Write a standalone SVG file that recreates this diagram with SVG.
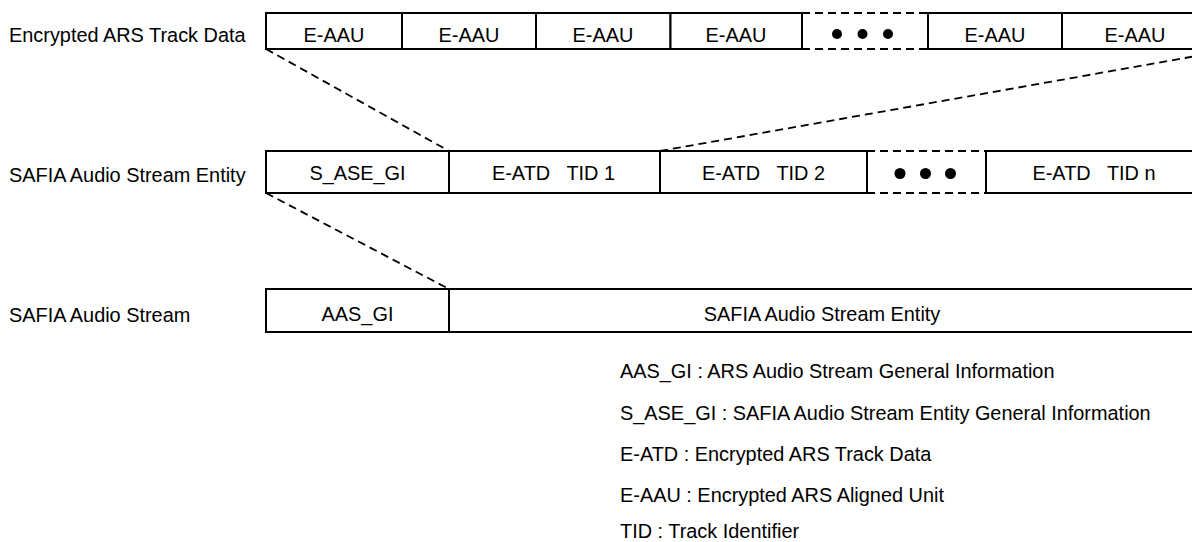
<svg xmlns="http://www.w3.org/2000/svg" width="1192" height="542" viewBox="0 0 1192 542">
  <style>
    text { font-family: "Liberation Sans", Arial, sans-serif; font-size: 19.9px; fill: #000; }
    .c { text-anchor: middle; }
    .cell { fill: #fff; stroke: #000; stroke-width: 2; }
    .dash { fill: none; stroke: #000; stroke-width: 1.8; stroke-dasharray: 8 5; }
    .dot { fill: #000; }
  </style>
  <rect width="1192" height="542" fill="#fff"/>

  <!-- row labels -->
  <g id="labels">
    <text x="9" y="41.5">Encrypted ARS Track Data</text>
    <text x="9" y="181.5">SAFIA Audio Stream Entity</text>
    <text x="9" y="321.5">SAFIA Audio Stream</text>
  </g>

  <!-- expansion connectors -->
  <g id="connectors">
    <line class="dash" x1="266" y1="49" x2="449" y2="151"/>
    <line class="dash" x1="660" y1="151" x2="1230" y2="50"/>
    <line class="dash" x1="266" y1="193" x2="449" y2="289"/>
  </g>

  <!-- Encrypted ARS Track Data -->
  <g id="track-data">
    <rect class="cell" x="266" y="13" width="136" height="36"/>
    <rect class="cell" x="402" y="13" width="134" height="36"/>
    <rect class="cell" x="536" y="13" width="134.5" height="36"/>
    <rect class="cell" x="670.5" y="13" width="131.5" height="36"/>
    <line class="dash" x1="802" y1="13" x2="928" y2="13"/>
    <line class="dash" x1="802" y1="49" x2="928" y2="49"/>
    <rect class="cell" x="928" y="13" width="134" height="36"/>
    <rect class="cell" x="1062" y="13" width="146" height="36"/>
    <text class="c" x="334" y="42">E-AAU</text>
    <text class="c" x="469" y="42">E-AAU</text>
    <text class="c" x="603" y="42">E-AAU</text>
    <text class="c" x="736" y="42">E-AAU</text>
    <circle class="dot" cx="837" cy="34" r="5"/>
    <circle class="dot" cx="862.5" cy="34" r="5"/>
    <circle class="dot" cx="888" cy="34" r="5"/>
    <text class="c" x="995" y="42">E-AAU</text>
    <text class="c" x="1135" y="42">E-AAU</text>
  </g>

  <!-- SAFIA Audio Stream Entity -->
  <g id="stream-entity">
    <rect class="cell" x="266" y="151" width="183" height="42"/>
    <rect class="cell" x="449" y="151" width="211" height="42"/>
    <rect class="cell" x="660" y="151" width="207" height="42"/>
    <line class="dash" x1="867" y1="151" x2="986" y2="151"/>
    <line class="dash" x1="867" y1="193" x2="986" y2="193"/>
    <rect class="cell" x="986" y="151" width="220" height="42"/>
    <text class="c" x="357.5" y="180">S_ASE_GI</text>
    <text class="c" x="553.5" y="180" xml:space="preserve">E-ATD   TID 1</text>
    <text class="c" x="763.5" y="180" xml:space="preserve">E-ATD   TID 2</text>
    <circle class="dot" cx="900" cy="173.5" r="5.5"/>
    <circle class="dot" cx="925.5" cy="173.5" r="5.5"/>
    <circle class="dot" cx="950.5" cy="173.5" r="5.5"/>
    <text class="c" x="1094" y="180" xml:space="preserve">E-ATD   TID n</text>
  </g>

  <!-- SAFIA Audio Stream -->
  <g id="audio-stream">
    <rect class="cell" x="266" y="289" width="183" height="43"/>
    <rect class="cell" x="449" y="289" width="747" height="43"/>
    <text class="c" x="357.5" y="321">AAS_GI</text>
    <text class="c" x="822" y="321">SAFIA Audio Stream Entity</text>
  </g>

  <!-- abbreviations -->
  <g id="legend">
    <text x="620" y="378">AAS_GI : ARS Audio Stream General Information</text>
    <text x="620" y="419.5">S_ASE_GI : SAFIA Audio Stream Entity General Information</text>
    <text x="620" y="461">E-ATD : Encrypted ARS Track Data</text>
    <text x="620" y="502">E-AAU : Encrypted ARS Aligned Unit</text>
    <text x="620" y="538">TID : Track Identifier</text>
  </g>
</svg>
